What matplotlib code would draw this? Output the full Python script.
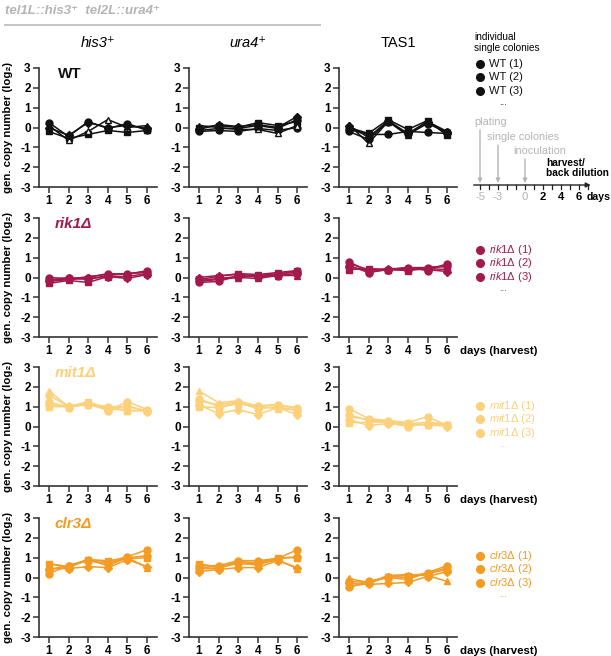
import numpy as np
import matplotlib
matplotlib.use('Agg')
import matplotlib.pyplot as plt

plt.rcParams['font.family'] = ['Liberation Sans', 'DejaVu Sans']
plt.rcParams['mathtext.fontset'] = 'custom'
plt.rcParams['mathtext.rm'] = 'Liberation Sans'
plt.rcParams['mathtext.it'] = 'Liberation Sans:italic'
plt.rcParams['mathtext.bf'] = 'Liberation Sans:bold'
plt.rcParams['axes.unicode_minus'] = False

#%% data

days = [1, 2, 3, 4, 5, 6]
genotypes = ['WT', 'rik1Δ', 'mit1Δ', 'clr3Δ']
legend_names = ['WT', r'$\mathit{rik1}$Δ', r'$\mathit{mit1}$Δ', r'$\mathit{clr3}$Δ']
loci = ['his3⁺', 'ura4⁺', 'TAS1']
yticks = [-3, -2, -1, 0, 1, 2, 3]

wt_his3 = [[0.25, -0.45, 0.30, -0.05, 0.20, -0.15],
           [-0.20, -0.55, -0.35, -0.15, -0.25, -0.15],
           [0.10, -0.65, -0.20, 0.40, 0.00, 0.10],
           [0.00, -0.40, 0.25, 0.00, 0.10, -0.05]]
wt_ura4 = [[-0.20, -0.15, -0.20, -0.05, -0.15, 0.00],
           [0.00, 0.10, 0.00, 0.25, 0.10, 0.30],
           [0.10, 0.00, -0.10, -0.10, -0.30, 0.10],
           [-0.10, 0.15, 0.05, 0.15, 0.00, 0.55],
           [-0.15, -0.05, -0.05, 0.10, -0.05, 0.40]]
wt_tas1 = [[-0.10, -0.35, -0.35, -0.20, -0.25, -0.30],
           [0.00, -0.30, 0.40, -0.10, 0.35, -0.40],
           [0.15, -0.80, 0.30, -0.40, 0.30, -0.20],
           [0.10, -0.50, 0.35, -0.30, 0.30, -0.30],
           [-0.20, -0.60, 0.30, -0.35, 0.20, -0.25]]

rik1_his3 = [[0.00, -0.05, 0.00, 0.20, 0.15, 0.35],
             [-0.30, -0.15, -0.25, 0.05, 0.05, 0.20],
             [-0.10, -0.10, 0.05, 0.15, 0.20, 0.30],
             [-0.20, -0.10, -0.05, 0.05, -0.05, 0.15],
             [-0.15, 0.00, -0.10, 0.10, 0.20, 0.25]]
rik1_ura4 = [[-0.25, -0.20, 0.10, 0.05, 0.15, 0.35],
             [-0.10, 0.05, 0.20, 0.15, 0.25, 0.35],
             [-0.20, -0.10, 0.00, -0.05, 0.10, 0.10],
             [0.00, 0.10, 0.15, 0.10, 0.20, 0.25],
             [-0.15, -0.05, 0.05, 0.05, 0.10, 0.20]]
rik1_tas1 = [[0.80, 0.30, 0.40, 0.50, 0.35, 0.70],
             [0.40, 0.45, 0.40, 0.35, 0.45, 0.40],
             [0.70, 0.40, 0.40, 0.50, 0.50, 0.55],
             [0.55, 0.35, 0.45, 0.45, 0.40, 0.30],
             [0.60, 0.25, 0.40, 0.40, 0.50, 0.60]]

mit1_his3 = [[1.60, 1.00, 1.20, 0.80, 1.25, 0.85],
             [1.00, 1.00, 1.25, 0.90, 0.80, 0.80],
             [1.80, 1.00, 1.10, 1.00, 0.80, 0.80],
             [1.10, 1.05, 1.10, 0.85, 1.05, 0.75],
             [1.25, 0.95, 1.15, 1.00, 1.00, 0.80]]
mit1_ura4 = [[1.40, 1.00, 1.20, 0.90, 1.00, 0.80],
             [1.00, 0.95, 1.15, 1.00, 0.90, 0.85],
             [1.80, 1.20, 1.30, 1.00, 1.10, 0.90],
             [1.10, 0.65, 0.85, 0.60, 0.95, 0.60],
             [1.30, 1.10, 1.25, 1.05, 1.10, 0.95]]
mit1_tas1 = [[0.90, 0.40, 0.30, 0.20, 0.50, 0.05],
             [0.20, 0.20, 0.25, 0.10, 0.10, 0.10],
             [0.50, 0.35, 0.25, 0.15, 0.20, 0.15],
             [0.35, 0.05, 0.15, 0.05, 0.10, 0.00],
             [0.60, 0.30, 0.20, 0.00, 0.15, 0.10]]

clr3_his3 = [[0.20, 0.60, 0.90, 0.80, 1.05, 1.40],
             [0.70, 0.55, 0.90, 0.85, 0.95, 1.00],
             [0.70, 0.50, 0.90, 0.60, 1.00, 0.50],
             [0.45, 0.45, 0.55, 0.50, 0.90, 0.55],
             [0.40, 0.60, 0.85, 0.70, 1.00, 1.10]]
clr3_ura4 = [[0.60, 0.60, 0.85, 0.85, 0.95, 1.40],
             [0.70, 0.50, 0.80, 0.75, 1.00, 1.00],
             [0.50, 0.55, 0.70, 0.65, 0.90, 0.45],
             [0.30, 0.40, 0.50, 0.50, 0.85, 0.50],
             [0.45, 0.45, 0.75, 0.70, 0.95, 1.05]]
clr3_tas1 = [[-0.50, -0.20, 0.00, -0.10, 0.25, 0.60],
             [-0.45, -0.30, 0.05, 0.10, 0.20, 0.50],
             [-0.05, -0.25, 0.10, 0.15, 0.10, -0.20],
             [-0.30, -0.35, -0.30, -0.25, 0.05, 0.30],
             [-0.20, -0.25, 0.05, 0.00, 0.20, 0.40]]

panels = [[wt_his3, wt_ura4, wt_tas1],
          [rik1_his3, rik1_ura4, rik1_tas1],
          [mit1_his3, mit1_ura4, mit1_tas1],
          [clr3_his3, clr3_ura4, clr3_tas1]]

# timeline of the experiment (days)
timeline_days = list(range(-5, 8))
timeline_labels = [-5, -3, 0, 2, 4, 6]
events = ['plating', 'single colonies', 'inoculation']
event_days = [-5, -3, 0]

#%% style

colors = ['#111111', '#A3194C', '#FDD07A', '#F39B22']
markers = ['o', 's', '^', 'D', 'o']
msizes = [5, 5, 5, 4, 5]
gray = '#B4B4B4'

W, H = 611, 656
def fx(x):
    return x / W
def fy(y):
    return 1 - y / H

col_left = [39, 189, 339]
row_top = [68, 218, 367, 518]
ax_w, ax_h = 118, 119

fig = plt.figure(figsize=(W / 100, H / 100), dpi=100)

#%% panels

for r in range(4):
    for c in range(3):
        ax = fig.add_axes([fx(col_left[c]), fy(row_top[r] + ax_h), ax_w / W, ax_h / H])
        for k, series in enumerate(panels[r][c]):
            face = colors[r]
            if r == 0 and k == 2:
                face = 'white'
            ax.plot(days, series, color=colors[r], lw=1.1, marker=markers[k],
                    ms=msizes[k], mfc=face, mec=colors[r], mew=1.0, clip_on=False)
        ax.set_xlim(0.5, 6.5)
        ax.set_ylim(-3, 3)
        ax.set_xticks(days)
        ax.set_yticks(yticks)
        for s in ['top', 'right']:
            ax.spines[s].set_visible(False)
        for s in ['left', 'bottom']:
            ax.spines[s].set_linewidth(1.2)
            ax.spines[s].set_color('#333333')
        ax.tick_params(direction='out', length=4, width=1.1, color='#333333',
                       labelsize=8.5, pad=2)
        for lab in ax.get_xticklabels() + ax.get_yticklabels():
            lab.set_fontweight('bold')
        if c == 0:
            ax.set_ylabel('gen. copy number (log₂)', fontsize=8.2, fontweight='bold', labelpad=5)
            if r == 0:
                ax.text(0.16, 0.95, genotypes[r], transform=ax.transAxes, fontsize=11,
                        fontweight='bold', color=colors[r], va='center')
            else:
                ax.text(0.13, 0.95, genotypes[r], transform=ax.transAxes, fontsize=11,
                        fontweight='bold', style='italic', color=colors[r], va='center')
        if c == 2 and r > 0:
            ax.annotate('days (harvest)', xy=(1.0, 0), xycoords='axes fraction',
                        xytext=(2, -10), textcoords='offset points', fontsize=8.2,
                        fontweight='bold', va='center')
        if r == 0:
            style = 'normal' if loci[c] == 'TAS1' else 'italic'
            fig.text(fx(col_left[c] + 59), fy(43), loci[c], fontsize=10.5, style=style,
                     ha='center', va='center')

#%% header

fig.text(fx(5), fy(11), 'tel1L::his3⁺  tel2L::ura4⁺', fontsize=9.5, fontweight='bold',
         style='italic', color=gray, va='center')
fig.add_artist(plt.Line2D([fx(5), fx(320)], [fy(25), fy(25)], color='#C4C4C4', lw=1.4))

#%% legends

fig.text(fx(474), fy(37), 'individual', fontsize=7.2, va='center')
fig.text(fx(474), fy(48), 'single colonies', fontsize=7.2, va='center')

legend_top = [64, 250, 406, 556]
for r in range(4):
    for i in range(3):
        y = legend_top[r] + 13.3 * i
        fig.add_artist(plt.Line2D([fx(480)], [fy(y)], marker='o', ms=5.5, color=colors[r],
                                  ls='none'))
        fig.text(fx(489), fy(y), f'{legend_names[r]} ({i + 1})', fontsize=8,
                 color=colors[r], va='center')
    fig.text(fx(503), fy(legend_top[r] + 41), '...', fontsize=7, color=colors[r],
             ha='center', va='baseline')

#%% timeline

tax = fig.add_axes([fx(474), fy(205), (600 - 474) / W, 90 / H])
tax.set_xlim((474 - 525) / 9, (600 - 525) / 9)
tax.set_ylim(205, 115)
tax.axis('off')
tax.annotate('', xy=(7.3, 185), xytext=(-5.7, 185),
             arrowprops=dict(arrowstyle='-|>', color='#222222', lw=1.0,
                             mutation_scale=7, shrinkA=0, shrinkB=0))
for d in timeline_days:
    tax.plot([d, d], [185, 189], color='#222222', lw=0.9)
for d in timeline_labels:
    col = gray if d <= 0 else 'black'
    fw = 'normal' if d <= 0 else 'bold'
    tax.text(d, 197, str(d), ha='center', va='center', fontsize=8.2, color=col, fontweight=fw)
fig.text(fx(587), fy(197), 'days', ha='left', va='center', fontsize=7.6, fontweight='bold')

event_y = [122, 137, 151]
event_x = [-5.67, -4.2, -1.33]
for name, d, ty, tx in zip(events, event_days, event_y, event_x):
    tax.text(tx, ty, name, fontsize=7.8, color=gray, va='center')
    tax.annotate('', xy=(d, 183), xytext=(d, ty + 8),
                 arrowprops=dict(arrowstyle='-|>', color=gray, lw=1.0,
                                 mutation_scale=6, shrinkA=0, shrinkB=0))
tax.text(2.33, 163, 'harvest/', fontsize=7.3, fontweight='bold', va='center')
tax.text(2.33, 173, 'back dilution', fontsize=7.3, fontweight='bold', va='center')

plt.savefig('out.png', dpi=100)
